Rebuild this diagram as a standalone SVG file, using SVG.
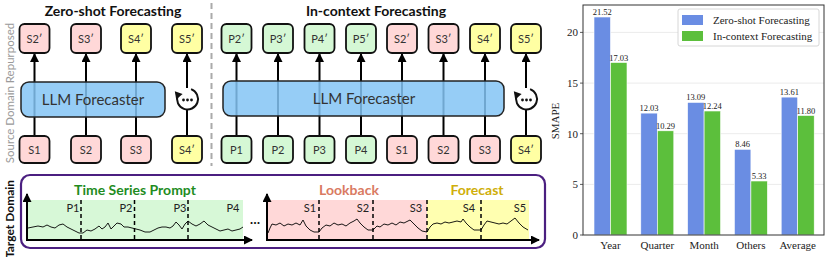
<svg xmlns="http://www.w3.org/2000/svg" xmlns:xlink="http://www.w3.org/1999/xlink" width="830" height="257" viewBox="0 0 830 257">
<style>
.sans{font-family:Lato,"Open Sans","DejaVu Sans",sans-serif}
.serif{font-family:"Liberation Serif","Times New Roman",serif}
.title{font-family:Lato,"Open Sans",sans-serif;font-weight:bold;font-size:14px;fill:#111;text-anchor:middle}
.box{stroke:#111;stroke-width:1.8}
.pink{fill:#ffd8d8}
.yel{fill:#ffffa3}
.grn{fill:#d5f8d5}
.bt{font-family:Lato,"Open Sans",sans-serif;font-size:11px;fill:#333;text-anchor:middle}
.conn{stroke:#000;stroke-width:2;fill:none}
.llm{fill:#84c4f4;fill-opacity:0.85;stroke:#222;stroke-width:1.5}
.llmt{font-family:Lato,"Open Sans",sans-serif;font-size:15px;fill:#333;text-anchor:middle}
.axis{stroke:#000;stroke-width:2;fill:none}
.dash{stroke:#000;stroke-width:1.5;stroke-dasharray:4,3}
.ts{stroke:#000;stroke-width:0.9;fill:none;stroke-linejoin:round}
.lab{font-family:Lato,"Open Sans",sans-serif;font-size:11px;fill:#222;text-anchor:middle}
.grid{stroke:#e6e6e6;stroke-width:0.8}
.tick{font-family:"Liberation Serif",serif;font-size:11px;fill:#222}
.val{font-family:"Liberation Serif",serif;font-size:8.5px;fill:#222;text-anchor:middle}
.zb{fill:#6a8de3;stroke:#fff;stroke-width:0.6}
.ib{fill:#5cbf3c;stroke:#fff;stroke-width:0.6}
</style>
<defs>
<marker id="ah" markerUnits="userSpaceOnUse" markerWidth="9" markerHeight="9" refX="8" refY="4.5" orient="auto">
<path d="M0,0 L9,4.5 L0,9 z" fill="#000"/>
</marker>
<marker id="ah2" markerUnits="userSpaceOnUse" markerWidth="9" markerHeight="9" refX="8" refY="4.5" orient="auto">
<path d="M0,0 L9,4.5 L0,9 z" fill="#000"/>
</marker>
<g id="cycle">
<circle r="10.5" fill="#fff"/>
<path d="M3.59,-9.87 A10.5,10.5 0 1 1 -9.87,-3.59" fill="none" stroke="#111" stroke-width="2"/>
<polygon points="-11.3,0.6 -4.9,-5.1 -12.7,-7.8" fill="#111"/>
<circle cx="-4" cy="1" r="1.4" fill="#111"/>
<circle cx="0" cy="1" r="1.4" fill="#111"/>
<circle cx="4" cy="1" r="1.4" fill="#111"/>
</g>
</defs>
<rect width="830" height="257" fill="#fff"/>

<!-- side labels -->
<text class="sans" transform="translate(14,93) rotate(-90)" text-anchor="middle" font-size="11.5" fill="#9a9a9a">Source Domain Repurposed</text>
<text class="sans" transform="translate(14,219) rotate(-90)" text-anchor="middle" font-size="12" font-weight="bold" fill="#111">Target Domain</text>

<!-- titles -->
<text class="title" x="113" y="16">Zero-shot Forecasting</text>
<text class="title" x="376" y="16">In-context Forecasting</text>
<line x1="211.5" y1="3" x2="211.5" y2="166" stroke="#aaa" stroke-width="2" stroke-dasharray="6,4"/>

<!-- connectors -->
<g id="connectors">
<line class="conn" x1="34.5" y1="136" x2="34.5" y2="54" marker-end="url(#ah)"/>
<line class="conn" x1="86" y1="136" x2="86" y2="54" marker-end="url(#ah)"/>
<line class="conn" x1="136" y1="136" x2="136" y2="54" marker-end="url(#ah)"/>
<line class="conn" x1="187" y1="136" x2="187" y2="110"/>
<line class="conn" x1="187" y1="88" x2="187" y2="54" marker-end="url(#ah)"/>
<line class="conn" x1="236.5" y1="136" x2="236.5" y2="54" marker-end="url(#ah)"/>
<line class="conn" x1="278" y1="136" x2="278" y2="54" marker-end="url(#ah)"/>
<line class="conn" x1="319.5" y1="136" x2="319.5" y2="54" marker-end="url(#ah)"/>
<line class="conn" x1="361" y1="136" x2="361" y2="54" marker-end="url(#ah)"/>
<line class="conn" x1="402" y1="136" x2="402" y2="54" marker-end="url(#ah)"/>
<line class="conn" x1="443.5" y1="136" x2="443.5" y2="54" marker-end="url(#ah)"/>
<line class="conn" x1="485" y1="136" x2="485" y2="54" marker-end="url(#ah)"/>
<line class="conn" x1="526" y1="136" x2="526" y2="110"/>
<line class="conn" x1="526" y1="88" x2="526" y2="54" marker-end="url(#ah)"/>
</g>

<!-- LLM boxes -->
<g id="llm-zero"><rect class="llm" x="21" y="82" width="144" height="35" rx="8"/><text class="llmt" x="93" y="105">LLM Forecaster</text></g>
<g id="llm-ic"><rect class="llm" x="223" y="81" width="281" height="35" rx="8"/><text class="llmt" x="364" y="104">LLM Forecaster</text></g>
<g id="cycle-zero"><use xlink:href="#cycle" x="187.5" y="99"/></g>
<g id="cycle-ic"><use xlink:href="#cycle" x="526.5" y="99"/></g>

<!-- top outputs zero-shot -->
<g id="z-out-s2"><rect class="box pink" x="19.5" y="24" width="30" height="29" rx="5"/><text class="bt" x="34.5" y="42.5">S2′</text></g>
<g id="z-out-s3"><rect class="box pink" x="71" y="24" width="30" height="29" rx="5"/><text class="bt" x="86" y="42.5">S3′</text></g>
<g id="z-out-s4"><rect class="box yel" x="121" y="24" width="30" height="29" rx="5"/><text class="bt" x="136" y="42.5">S4′</text></g>
<g id="z-out-s5"><rect class="box yel" x="172" y="24" width="30" height="29" rx="5"/><text class="bt" x="187" y="42.5">S5′</text></g>
<!-- top outputs in-context -->
<g id="i-out-p2"><rect class="box grn" x="221.5" y="24" width="30" height="29" rx="5"/><text class="bt" x="236.5" y="42.5">P2′</text></g>
<g id="i-out-p3"><rect class="box grn" x="263" y="24" width="30" height="29" rx="5"/><text class="bt" x="278" y="42.5">P3′</text></g>
<g id="i-out-p4"><rect class="box grn" x="304.5" y="24" width="30" height="29" rx="5"/><text class="bt" x="319.5" y="42.5">P4′</text></g>
<g id="i-out-p5"><rect class="box grn" x="346" y="24" width="30" height="29" rx="5"/><text class="bt" x="361" y="42.5">P5′</text></g>
<g id="i-out-s2"><rect class="box pink" x="387" y="24" width="30" height="29" rx="5"/><text class="bt" x="402" y="42.5">S2′</text></g>
<g id="i-out-s3"><rect class="box pink" x="428.5" y="24" width="30" height="29" rx="5"/><text class="bt" x="443.5" y="42.5">S3′</text></g>
<g id="i-out-s4"><rect class="box yel" x="470" y="24" width="30" height="29" rx="5"/><text class="bt" x="485" y="42.5">S4′</text></g>
<g id="i-out-s5"><rect class="box yel" x="511" y="24" width="30" height="29" rx="5"/><text class="bt" x="526" y="42.5">S5′</text></g>

<!-- bottom inputs zero-shot -->
<g id="z-in-s1"><rect class="box pink" x="19.5" y="136" width="30" height="27" rx="5"/><text class="bt" x="34.5" y="153.5">S1</text></g>
<g id="z-in-s2"><rect class="box pink" x="71" y="136" width="30" height="27" rx="5"/><text class="bt" x="86" y="153.5">S2</text></g>
<g id="z-in-s3"><rect class="box pink" x="121" y="136" width="30" height="27" rx="5"/><text class="bt" x="136" y="153.5">S3</text></g>
<g id="z-in-s4"><rect class="box yel" x="172" y="136" width="30" height="27" rx="5"/><text class="bt" x="187" y="153.5">S4′</text></g>
<!-- bottom inputs in-context -->
<g id="i-in-p1"><rect class="box grn" x="221.5" y="136" width="30" height="27" rx="5"/><text class="bt" x="236.5" y="153.5">P1</text></g>
<g id="i-in-p2"><rect class="box grn" x="263" y="136" width="30" height="27" rx="5"/><text class="bt" x="278" y="153.5">P2</text></g>
<g id="i-in-p3"><rect class="box grn" x="304.5" y="136" width="30" height="27" rx="5"/><text class="bt" x="319.5" y="153.5">P3</text></g>
<g id="i-in-p4"><rect class="box grn" x="346" y="136" width="30" height="27" rx="5"/><text class="bt" x="361" y="153.5">P4</text></g>
<g id="i-in-s1"><rect class="box pink" x="387" y="136" width="30" height="27" rx="5"/><text class="bt" x="402" y="153.5">S1</text></g>
<g id="i-in-s2"><rect class="box pink" x="428.5" y="136" width="30" height="27" rx="5"/><text class="bt" x="443.5" y="153.5">S2</text></g>
<g id="i-in-s3"><rect class="box pink" x="470" y="136" width="30" height="27" rx="5"/><text class="bt" x="485" y="153.5">S3</text></g>
<g id="i-in-s4"><rect class="box yel" x="511" y="136" width="30" height="27" rx="5"/><text class="bt" x="526" y="153.5">S4′</text></g>

<!-- target domain panel -->
<g id="target-panel">
<rect x="21" y="175" width="524" height="73" rx="9" fill="#fff" stroke="#4b1f80" stroke-width="2.2"/>
<text class="sans" x="135" y="195" text-anchor="middle" font-size="14" font-weight="bold" fill="#1f8c1f">Time Series Prompt</text>
<text class="sans" x="349" y="195" text-anchor="middle" font-size="14" font-weight="bold" fill="#d97a62">Lookback</text>
<text class="sans" x="477" y="195" text-anchor="middle" font-size="14" font-weight="bold" fill="#cfae0a">Forecast</text>

<rect x="28" y="200" width="215" height="39" fill="#d7f8d7"/>
<rect x="268" y="200" width="159" height="39" fill="#ffd8d8"/>
<rect x="427" y="200" width="102" height="39" fill="#ffffb0"/>

<line class="dash" x1="81" y1="200" x2="81" y2="239"/>
<line class="dash" x1="134.5" y1="200" x2="134.5" y2="239"/>
<line class="dash" x1="188" y1="200" x2="188" y2="239"/>
<line class="dash" x1="319" y1="200" x2="319" y2="239"/>
<line class="dash" x1="373" y1="200" x2="373" y2="239"/>
<line class="dash" x1="427" y1="200" x2="427" y2="239"/>
<line class="dash" x1="481" y1="200" x2="481" y2="239"/>

<text class="lab" x="73" y="212">P1</text>
<text class="lab" x="126" y="212">P2</text>
<text class="lab" x="180" y="212">P3</text>
<text class="lab" x="233" y="212">P4</text>
<text class="lab" x="310" y="212">S1</text>
<text class="lab" x="363" y="212">S2</text>
<text class="lab" x="416" y="212">S3</text>
<text class="lab" x="469" y="212">S4</text>
<text class="lab" x="520" y="212">S5</text>

<path class="ts" d="M28,228 L33,227 38,226 43,227 47,225 51,227 55,228 59,225 63,224 67,227 71,229 75,231 79,233 83,233 87,230 91,231 95,229 99,226 102,229 105,227 108,223 111,229 114,226 117,223 121,224 124,227 128,227 132,228 136,229 140,230 145,232 150,232 154,230 158,228 162,227 166,227 170,228 173,226 176,222 179,225 182,229 185,224 188,221 192,224 196,226 200,224 204,221 208,225 212,227 216,229 220,231 224,230 228,229 232,231 236,230 240,229 243,227"/>
<path class="ts" d="M268,233 L270,228 272,224 276,225 280,223 284,226 288,224 292,225 296,223 300,225 303,220 306,226 310,230 314,232 319,232 322,228 326,225 330,226 334,223 338,225 342,224 346,226 350,223 354,221 357,219 360,223 364,227 368,230 373,230 377,226 380,227 384,224 388,225 392,223 396,225 400,222 404,223 408,221 410,220 414,224 418,228 422,231 427,232 430,227 433,224 437,223 441,224 445,222 449,223 453,222 457,221 461,222 463,219 466,223 470,227 474,230 478,230 481,230 484,225 487,221 491,222 495,223 499,224 503,223 507,224 511,221 515,218 519,223 523,227 528,230"/>

<line class="axis" x1="27" y1="240" x2="27" y2="194" marker-end="url(#ah2)"/>
<line class="axis" x1="26" y1="240" x2="252" y2="240" marker-end="url(#ah2)"/>
<line class="axis" x1="267" y1="240" x2="267" y2="194" marker-end="url(#ah2)"/>
<line class="axis" x1="266" y1="240" x2="539" y2="240" marker-end="url(#ah2)"/>
<text class="sans" x="255" y="224" text-anchor="middle" font-size="13" font-weight="bold" fill="#111">…</text>
</g>

<!-- bar chart -->
<g id="chart">
<line class="grid" x1="583" y1="184.4" x2="824" y2="184.4"/>
<line class="grid" x1="583" y1="133.7" x2="824" y2="133.7"/>
<line class="grid" x1="583" y1="83.1" x2="824" y2="83.1"/>
<line class="grid" x1="583" y1="32.4" x2="824" y2="32.4"/>

<rect class="zb" x="594" y="17" width="16.5" height="218"/>
<rect class="ib" x="610.5" y="62.5" width="16.5" height="172.5"/>
<rect class="zb" x="640.8" y="113.1" width="16.5" height="121.9"/>
<rect class="ib" x="657.3" y="130.8" width="16.5" height="104.2"/>
<rect class="zb" x="687.6" y="102.4" width="16.5" height="132.6"/>
<rect class="ib" x="704.1" y="111" width="16.5" height="124"/>
<rect class="zb" x="734.4" y="149.3" width="16.5" height="85.7"/>
<rect class="ib" x="750.9" y="181" width="16.5" height="54"/>
<rect class="zb" x="781.2" y="97.1" width="16.5" height="137.9"/>
<rect class="ib" x="797.7" y="115.5" width="16.5" height="119.5"/>

<text class="val" x="602.3" y="15">21.52</text>
<text class="val" x="618.8" y="60.5">17.03</text>
<text class="val" x="649" y="111">12.03</text>
<text class="val" x="665.5" y="128.8">10.29</text>
<text class="val" x="695.8" y="100.4">13.09</text>
<text class="val" x="712.3" y="109">12.24</text>
<text class="val" x="742.6" y="147.3">8.46</text>
<text class="val" x="759.1" y="179">5.33</text>
<text class="val" x="789.4" y="95.1">13.61</text>
<text class="val" x="805.9" y="113.5">11.80</text>

<rect x="583" y="5" width="241" height="230" fill="none" stroke="#333" stroke-width="1"/>
<g stroke="#333" stroke-width="0.8">
<line x1="580" y1="235" x2="583" y2="235"/><line x1="580" y1="184.4" x2="583" y2="184.4"/><line x1="580" y1="133.7" x2="583" y2="133.7"/><line x1="580" y1="83.1" x2="583" y2="83.1"/><line x1="580" y1="32.4" x2="583" y2="32.4"/>
</g>
<g class="tick" text-anchor="end">
<text x="578" y="239">0</text>
<text x="578" y="188.4">5</text>
<text x="578" y="137.7">10</text>
<text x="578" y="87.1">15</text>
<text x="578" y="36.4">20</text>
</g>
<g class="tick" text-anchor="middle">
<text x="610.5" y="249">Year</text>
<text x="657.3" y="249">Quarter</text>
<text x="704.1" y="249">Month</text>
<text x="750.9" y="249">Others</text>
<text x="797.7" y="249">Average</text>
</g>
<text class="tick" transform="translate(559,121) rotate(-90)" text-anchor="middle">SMAPE</text>

<rect x="678" y="9" width="141" height="37" rx="2" fill="#fff" stroke="#ccc" stroke-width="0.8"/>
<rect x="682" y="15" width="21" height="10" fill="#6a8de3"/>
<rect x="682" y="31" width="21" height="10" fill="#5cbf3c"/>
<text class="tick" x="713" y="24">Zero-shot Forecasting</text>
<text class="tick" x="713" y="39.5">In-context Forecasting</text>
</g>
</svg>
